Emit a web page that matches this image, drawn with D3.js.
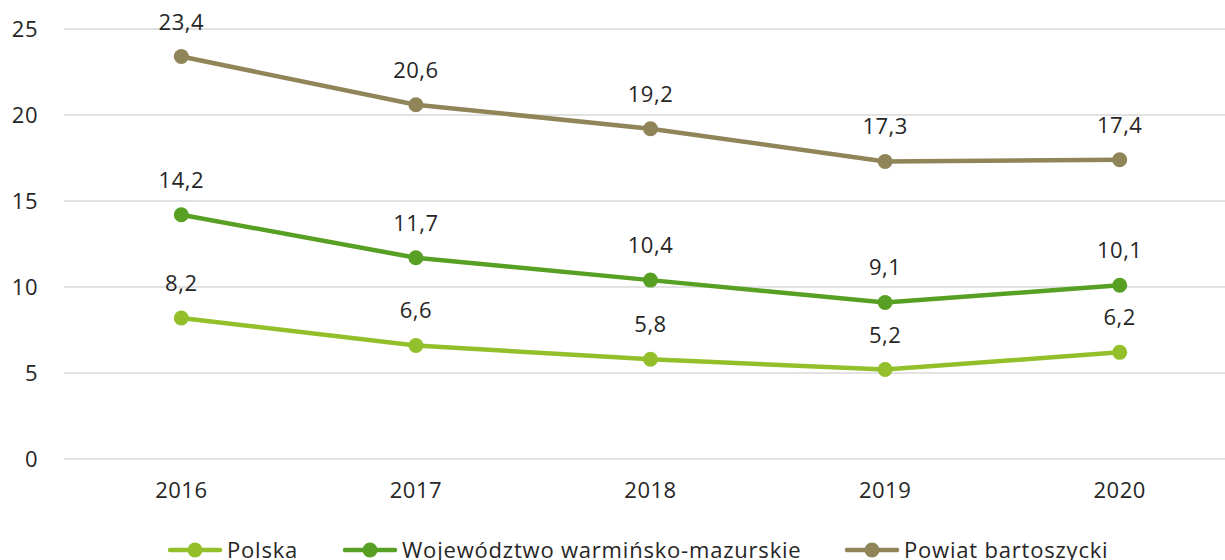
<!DOCTYPE html>
<html>
<head>
<meta charset="utf-8">
<script src="https://cdn.jsdelivr.net/npm/d3@7"></script>
<style>
  body { margin: 0; background: #fff; }
  svg text { font-family: "Open Sans", sans-serif; fill: #262626; letter-spacing: 0.5px; }
</style>
</head>
<body>
<div class="chart"></div>
<script>
const years = ['2016', '2017', '2018', '2019', '2020'];
const polska = [8.2, 6.6, 5.8, 5.2, 6.2];
const wojewodztwo = [14.2, 11.7, 10.4, 9.1, 10.1];
const powiat = [23.4, 20.6, 19.2, 17.3, 17.4];
const yTicks = [0, 5, 10, 15, 20, 25];

const series = [
  { name: 'Polska', values: polska, color: '#93c02a' },
  { name: 'Województwo warmińsko-mazurskie', values: wojewodztwo, color: '#58a024' },
  { name: 'Powiat bartoszycki', values: powiat, color: '#8f8558' },
];

const width = 1225;
const height = 560;
const margin = { top: 29, right: -12, bottom: 101, left: 64 };
const innerW = width - margin.left - margin.right;
const innerH = height - margin.top - margin.bottom;

const svg = d3
  .select('.chart')
  .append('svg')
  .attr('width', width)
  .attr('height', height);

const g = svg.append('g').attr('transform', 'translate(' + margin.left + ',' + margin.top + ')');

const x = d3.scaleBand().domain(years).range([0, innerW]);
const y = d3.scaleLinear().domain([0, 25]).range([innerH, 0]);
const cx = d => x(d) + x.bandwidth() / 2;

// gridlines
g.selectAll('.grid')
  .data(yTicks)
  .enter()
  .append('line')
  .attr('x1', 0)
  .attr('x2', innerW)
  .attr('y1', d => y(d))
  .attr('y2', d => y(d))
  .attr('stroke', '#d9d9d9')
  .attr('stroke-width', 1.5);

// y axis labels
const yAxis = g.append('g').call(d3.axisLeft(y).tickValues(yTicks).tickSize(0).tickPadding(26));
yAxis.select('.domain').remove();
yAxis.selectAll('text').style('font-size', '22px').attr('fill', '#262626');

// x axis labels
const xAxis = g
  .append('g')
  .attr('transform', 'translate(0,' + innerH + ')')
  .call(d3.axisBottom(x).tickSize(0).tickPadding(23));
xAxis.select('.domain').remove();
xAxis.selectAll('text').style('font-size', '22px').attr('fill', '#262626');

const line = d3
  .line()
  .x((d, i) => cx(years[i]))
  .y(d => y(d));

series.forEach(s => {
  g.append('path')
    .datum(s.values)
    .attr('fill', 'none')
    .attr('stroke', s.color)
    .attr('stroke-width', 4.5)
    .attr('stroke-linecap', 'round')
    .attr('d', line);

  g.selectAll(null)
    .data(s.values)
    .enter()
    .append('circle')
    .attr('cx', (d, i) => cx(years[i]))
    .attr('cy', d => y(d))
    .attr('r', 7.5)
    .attr('fill', s.color);

  g.selectAll(null)
    .data(s.values)
    .enter()
    .append('text')
    .attr('x', (d, i) => cx(years[i]))
    .attr('y', d => y(d) - 27)
    .attr('text-anchor', 'middle')
    .style('font-size', '22px')
    .text(d => d.toString().replace('.', ','));
});

// legend
const legendX = [168, 343, 845];
const legend = svg
  .selectAll('.legend')
  .data(series)
  .enter()
  .append('g')
  .attr('transform', (d, i) => 'translate(' + legendX[i] + ',550)');

legend
  .append('line')
  .attr('x1', 2)
  .attr('x2', 52)
  .attr('stroke', d => d.color)
  .attr('stroke-width', 4.5)
  .attr('stroke-linecap', 'round');
legend
  .append('circle')
  .attr('cx', 27)
  .attr('r', 7.5)
  .attr('fill', d => d.color);
legend
  .append('text')
  .attr('x', 59)
  .attr('y', 8)
  .style('font-size', '22px')
  .style('letter-spacing', '0.8px')
  .text(d => d.name);
</script>
</body>
</html>
